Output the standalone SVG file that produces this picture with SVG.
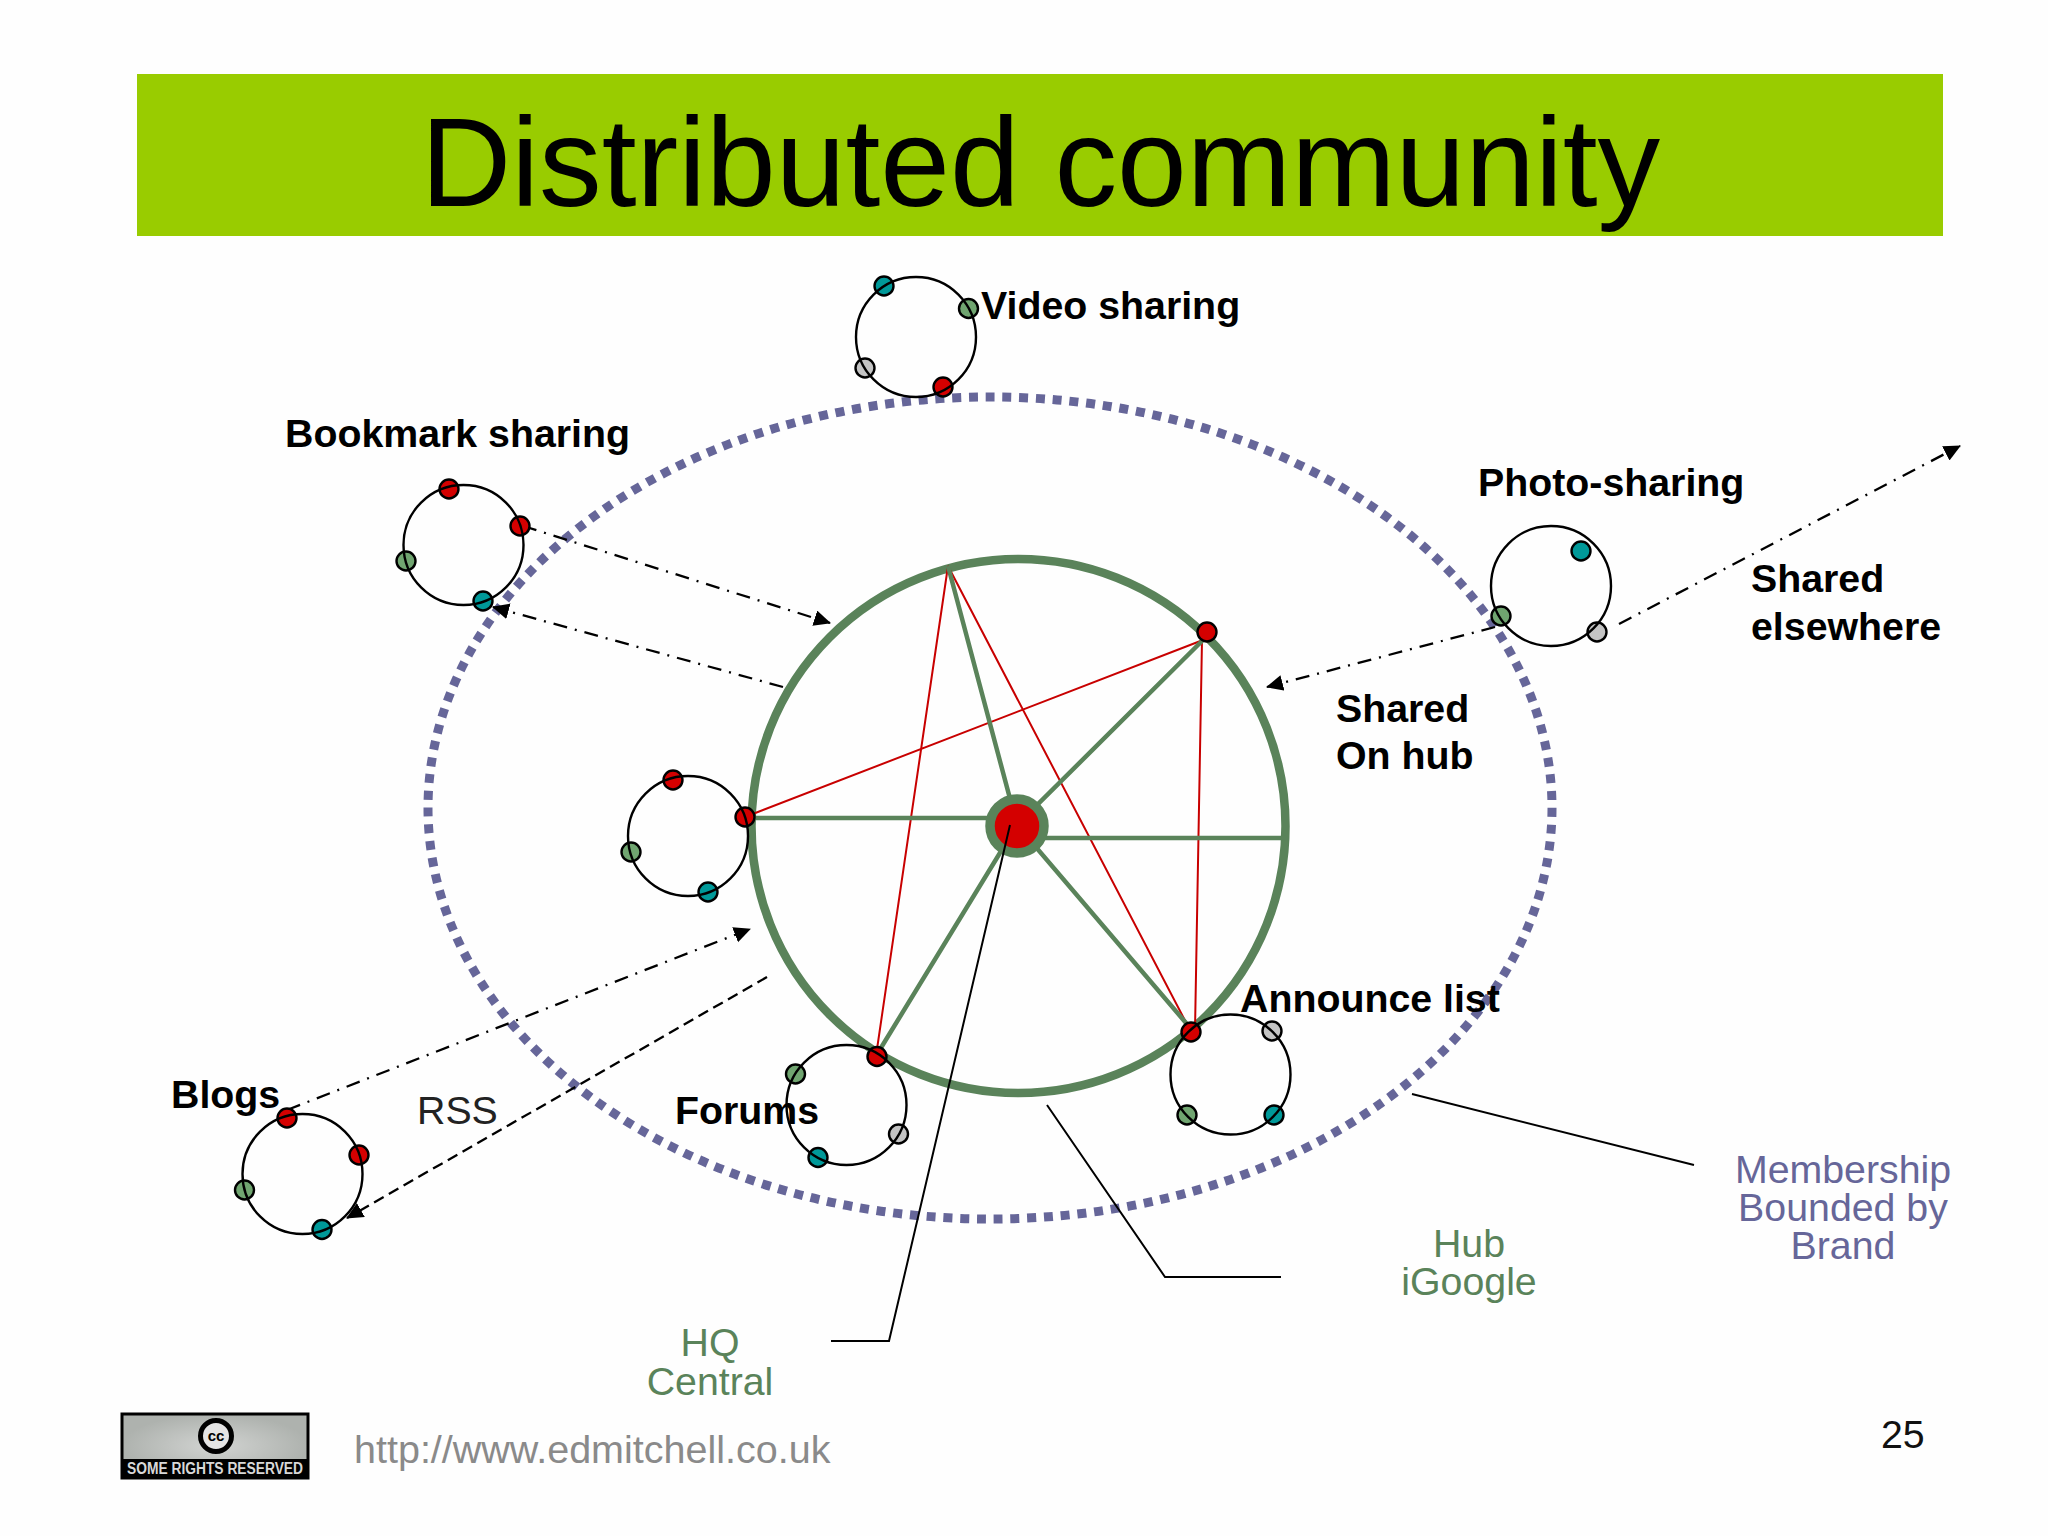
<svg xmlns="http://www.w3.org/2000/svg" width="2048" height="1536" viewBox="0 0 2048 1536">
<style>
text{font-family:"Liberation Sans",Arial,sans-serif}
.b{font-weight:bold;font-size:39.3px;fill:#000}
.g{font-size:39.3px;fill:#5a835a;text-anchor:middle}
.p{font-size:39.3px;fill:#666699;text-anchor:middle}
.ring{fill:none;stroke:#000;stroke-width:2.4}
.d{stroke:#000;stroke-width:2.4}
.r{fill:#d40000}.t{fill:#009999}.m{fill:#70a570}.s{fill:#c4c4c4}
.red{stroke:#c80000;stroke-width:2;fill:none}
.grn{stroke:#5a835a;stroke-width:4.500;fill:none}
.lead{stroke:#000;stroke-width:2;fill:none}
.arr{stroke:#000;stroke-width:2.300;fill:none;stroke-dasharray:14 8 2 8;marker-end:url(#ah)}
</style>
<defs>
<marker id="ah" markerUnits="userSpaceOnUse" markerWidth="20" markerHeight="20" refX="16" refY="8" orient="auto"><path d="M0 0L17 8L0 16Z" fill="#000"/></marker>
<radialGradient id="badge"><stop offset="0" stop-color="#d2d4d2"/><stop offset="1" stop-color="#aeb2ae"/></radialGradient>
</defs>
<rect width="2048" height="1536" fill="#fefefe"/>
<g id="title">
<rect x="137" y="74" width="1806" height="162" fill="#99cc00"/>
<text x="1040.500" y="206" font-size="125.300" text-anchor="middle" fill="#000">Distributed community</text>
</g>
<g id="boundary"><ellipse cx="990" cy="808" rx="562" ry="411" fill="none" stroke="#666699" stroke-width="9" stroke-dasharray="9 7.800"/></g>
<g id="hub"><circle cx="1018.500" cy="826" r="267" fill="none" stroke="#5a835a" stroke-width="8.500"/></g>
<g id="spokes">
<path class="red" d="M948 566L876 1056M948 566L1191 1032M745 817L1203 640M1202 640L1195 1030"/>
<path class="grn" d="M948 566L1017 825M1203 640L1017 825M748 818H990M1044 838L1286 838M1017 825L876 1056M1017 825L1192 1030"/>
</g>
<g id="hq"><circle cx="1017" cy="826" r="27" fill="#d40000" stroke="#5a835a" stroke-width="9.500"/></g>
<g id="connectors">
<path class="lead" d="M1010 825L889 1341H831M1047 1105L1165 1277H1281M1412 1094L1694 1165"/>
<path class="arr" d="M523 526L830 623"/>
<path class="arr" d="M783 687L493 607"/>
<path class="arr" d="M287 1110L750 929"/>
<path class="arr" style="stroke-dasharray:11 6" d="M767 977L347 1218"/>
<path class="arr" d="M1495 627L1267 687"/>
<path class="arr" d="M1619 624L1960 446"/>
</g>
<g id="video-sharing"><circle class="d t" cx="884" cy="286" r="9.500"/><circle class="d m" cx="968.500" cy="308.500" r="9.500"/><circle class="d s" cx="865" cy="368" r="9.500"/><circle class="d r" cx="943" cy="387" r="9.500"/><circle class="ring" cx="916" cy="337" r="60"/></g>
<g id="bookmark-sharing"><circle class="d r" cx="449" cy="489" r="9.500"/><circle class="d r" cx="520" cy="526" r="9.500"/><circle class="d m" cx="406" cy="561" r="9.500"/><circle class="d t" cx="483" cy="601" r="9.500"/><circle class="ring" cx="463.500" cy="545" r="60"/></g>
<g id="photo-sharing"><circle class="d t" cx="1581" cy="551" r="9.500"/><circle class="d m" cx="1501" cy="616" r="9.500"/><circle class="d s" cx="1597" cy="632" r="9.500"/><circle class="ring" cx="1551" cy="586" r="60"/></g>
<g id="community"><circle class="d r" cx="673" cy="780" r="9.500"/><circle class="d r" cx="745" cy="817" r="9.500"/><circle class="d m" cx="631" cy="852" r="9.500"/><circle class="d t" cx="708" cy="892" r="9.500"/><circle class="ring" cx="688" cy="836" r="60"/></g>
<g id="announce-list"><circle class="d r" cx="1191" cy="1032" r="9.500"/><circle class="d s" cx="1272" cy="1031" r="9.500"/><circle class="d m" cx="1187" cy="1115" r="9.500"/><circle class="d t" cx="1274" cy="1115" r="9.500"/><circle class="ring" cx="1230.500" cy="1074.500" r="60"/></g>
<g id="forums"><circle class="d r" cx="877" cy="1056.500" r="9.500"/><circle class="d m" cx="795.500" cy="1074" r="9.500"/><circle class="d s" cx="898.500" cy="1134" r="9.500"/><circle class="d t" cx="818" cy="1157.500" r="9.500"/><circle class="ring" cx="846.500" cy="1105" r="60"/></g>
<g id="blogs"><circle class="d r" cx="287" cy="1118" r="9.500"/><circle class="d r" cx="359" cy="1155" r="9.500"/><circle class="d m" cx="244.500" cy="1190" r="9.500"/><circle class="d t" cx="322" cy="1229.500" r="9.500"/><circle class="ring" cx="302.500" cy="1174" r="60"/></g>
<g id="hub-node"><circle class="d r" cx="1207" cy="632" r="9.500"/></g>
<g id="labels">
<text class="b" x="981" y="319">Video sharing</text>
<text class="b" x="285" y="447">Bookmark sharing</text>
<text class="b" x="1478" y="496">Photo-sharing</text>
<text class="b" x="1751" y="592">Shared</text>
<text class="b" x="1751" y="640">elsewhere</text>
<text class="b" x="1336" y="722">Shared</text>
<text class="b" x="1336" y="769">On hub</text>
<text class="b" x="1240" y="1012">Announce list</text>
<text class="b" x="171" y="1108">Blogs</text>
<text class="b" x="675" y="1124">Forums</text>
<text x="417" y="1124" font-size="39.300" fill="#222">RSS</text>
<text class="g"><tspan x="1469" y="1257">Hub</tspan><tspan x="1469" y="1295">iGoogle</tspan></text>
<text class="g"><tspan x="710" y="1356">HQ</tspan><tspan x="710" y="1395">Central</tspan></text>
<text class="p"><tspan x="1843" y="1183">Membership</tspan><tspan x="1843" y="1221">Bounded by</tspan><tspan x="1843" y="1259">Brand</tspan></text>
<text x="354" y="1463" font-size="39.500" fill="#8a8a8a">http://www.edmitchell.co.uk</text>
<text x="1881" y="1448" font-size="39.300" fill="#111">25</text>
</g>
<g id="cc-badge">
<rect x="122" y="1414" width="186" height="64" fill="url(#badge)" stroke="#000" stroke-width="3"/>
<rect x="123" y="1459" width="184" height="19" fill="#000"/>
<circle cx="216" cy="1436" r="15.500" fill="#e4e4e4" stroke="#000" stroke-width="5"/>
<text x="216" y="1441" font-size="15" font-weight="bold" text-anchor="middle" fill="#000">cc</text>
<text x="215" y="1474" font-size="16" font-weight="bold" text-anchor="middle" fill="#d8d8d8" textLength="176" lengthAdjust="spacingAndGlyphs">SOME RIGHTS RESERVED</text>
</g>
</svg>
